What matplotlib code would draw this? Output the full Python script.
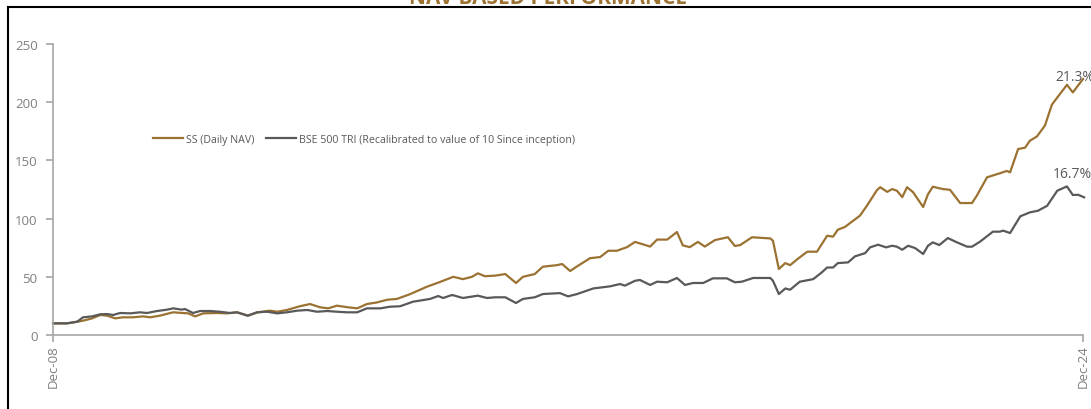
import matplotlib
matplotlib.use("Agg")
import matplotlib.pyplot as plt
from matplotlib.lines import Line2D

# ==========================
# DATA (months since Dec-08, index value)
# ==========================

ss_months = [0, 2.6, 4.5, 5.6, 7.3, 8.8, 10.1, 11.6, 13.0, 14.9, 16.8, 18.1, 19.9,
             22.4, 24.2, 25.2, 26.5, 28.0, 30.6, 32.4, 34.3, 36.3, 38.2, 40.4, 41.8,
             43.6, 46.0, 47.9, 49.8, 51.3, 52.9, 55.0, 56.7, 58.5, 60.4, 62.3, 64.1,
             66.5, 69.7, 72.1, 74.6, 76.4, 78.1, 79.2, 80.5, 82.4, 84.3, 86.3, 87.6,
             89.8, 91.3, 93.9, 94.9, 96.4, 97.7, 100.1, 102.0, 103.5, 105.1, 107.0,
             108.5, 111.3, 112.6, 114.5, 116.3, 117.4, 118.7, 120.2, 121.5, 123.4,
             125.8, 127.1, 128.1, 130.3, 133.7, 134.2, 135.3, 136.5, 137.4, 138.7,
             140.6, 142.4, 144.3, 145.4, 146.3, 147.6, 150.4, 151.7, 153.6, 154.2,
             155.5, 156.4, 157.3, 158.3, 159.2, 160.3, 162.2, 163.1, 164.0, 165.9,
             167.2, 169.1, 171.3, 172.2, 174.1, 176.5, 177.8, 178.4, 179.9, 181.2,
             182.1, 183.4, 184.9, 186.2, 189.0, 190.1, 192.0]
ss_nav = [10, 10, 11.4, 12.3, 14.3, 17.2, 16.6, 14.3, 15.2, 15.2, 16, 15.2, 16.6,
          19.5, 18.9, 18.6, 16, 18.6, 18.9, 18.6, 19.5, 16.6, 19.5, 20.9, 20,
          21.5, 24.7, 26.6, 23.8, 22.9, 25.2, 23.8, 22.9, 26.6, 28, 30.3, 31,
          35, 41.5, 45.5, 50, 48, 50, 53, 50.5, 51, 52.4, 44.7, 50,
          52.4, 58.7, 60, 61, 55, 59, 66, 67, 72.4, 72.4, 75.5,
          80, 76, 82, 82, 88.5, 77, 75.5, 80, 76, 81.6,
          84, 76.5, 77.3, 84, 83, 81, 56.7, 61.8, 60, 65,
          71.6, 71.6, 85.3, 84.5, 90.5, 92.8, 102.5, 111, 124.6, 127,
          123, 125.4, 124, 118.5, 127, 122.8, 110, 121, 127.4, 125.4,
          124.8, 113.4, 113.4, 119.7, 135.5, 139, 141, 139.8, 159.8, 161,
          167, 170.6, 180, 198, 215, 208.5, 220]

bse_months = [0, 2.6, 4.5, 5.6, 7.3, 8.8, 10.1, 11.2, 12.5, 14.4, 16.2, 17.5, 19.4,
              21.3, 22.4, 24.0, 24.6, 26.1, 27.4, 29.3, 31.1, 33.0, 34.3, 36.3, 38.0,
              39.9, 41.8, 43.6, 45.5, 47.4, 49.2, 51.1, 52.9, 54.8, 56.7, 58.5, 61.0,
              62.8, 64.7, 67.1, 70.3, 71.8, 72.7, 74.4, 76.4, 79.2, 80.9, 82.4, 84.3,
              86.3, 87.6, 89.8, 91.3, 94.5, 96.0, 97.7, 100.7, 103.8, 105.7, 106.6,
              108.5, 109.4, 111.3, 112.6, 114.5, 116.3, 117.8, 119.3, 121.2, 123.0,
              125.6, 127.1, 128.4, 130.5, 133.7, 134.2, 135.3, 136.5, 137.4, 139.2,
              141.7, 143.3, 144.3, 145.4, 146.3, 148.2, 149.5, 151.4, 152.3, 153.8,
              155.3, 156.4, 157.3, 158.3, 159.4, 160.7, 162.2, 163.1, 164.0, 165.2,
              166.8, 168.5, 170.4, 171.3, 172.8, 175.2, 176.5, 177.1, 178.4, 180.3,
              182.1, 183.6, 185.3, 187.2, 189.0, 190.1, 191.1, 192.2]
bse_tri = [10, 10, 11.4, 15.2, 16, 17.8, 18, 17.2, 18.9, 18.6, 19.5, 18.9, 20.6,
           21.8, 22.9, 21.8, 22.3, 18.9, 20.6, 20.6, 20, 18.9, 19.5, 16.6, 19.5,
           20, 18.6, 19.5, 20.9, 21.5, 20, 20.6, 20, 19.5, 19.5, 22.9, 22.9,
           24.3, 24.7, 28.6, 31, 33.5, 31.8, 34.4, 31.8, 33.8, 31.8, 32.4, 32.4,
           27.5, 31, 32.4, 35.2, 36, 33.2, 35.2, 40, 41.8, 43.8, 42.4,
           46.6, 47.3, 43, 45.8, 45.3, 49, 43, 44.7, 44.7, 48.7,
           48.7, 45.3, 45.8, 49, 49, 46.6, 35.2, 40, 38.9, 45.8,
           48, 53.8, 58, 58, 61.8, 62.4, 67.6, 70.4, 75.3, 77.6,
           75.3, 76.7, 75.9, 73.3, 76.7, 74.7, 69.6, 76.7, 79.6, 77.3,
           83.3, 79.6, 75.9, 75.9, 80.2, 88.8, 88.8, 89.7, 87.6, 102,
           105.4, 106.8, 111, 124, 127.7, 120.3, 120.5, 118.3]

x_ticks = [0, 192]
x_labels = ["Dec-08", "Dec-24"]
y_ticks = [0, 50, 100, 150, 200, 250]

ss_cagr = "21.3%"
bse_cagr = "16.7%"

# ==========================
# STYLE
# ==========================

plt.rcParams["font.family"] = ["Open Sans", "DejaVu Sans"]

gold = "#9B7232"
dark = "#595959"
axis_grey = "#A6A6A6"
text_grey = "#7F7F7F"

fig = plt.figure(figsize=(10.91, 4.10), dpi=100)
ax = fig.add_axes([0.0486, 0.1805, 0.9441, 0.7095])

ax.plot(ss_months, ss_nav, color=gold, lw=1.6,
        label="SS (Daily NAV)", clip_on=False)
ax.plot(bse_months, bse_tri, color=dark, lw=1.6,
        label="BSE 500 TRI (Recalibrated to value of 10 Since inception)",
        clip_on=False)

ax.set_xlim(0, 192)
ax.set_ylim(0, 250)

ax.set_yticks(y_ticks)
ax.set_xticks(x_ticks)
ax.set_xticklabels(x_labels, rotation=90)

for side in ["top", "right"]:
    ax.spines[side].set_visible(False)
for side in ["left", "bottom"]:
    ax.spines[side].set_color(axis_grey)
    ax.spines[side].set_linewidth(1.2)

ax.tick_params(axis="both", colors=axis_grey, length=5, width=1.2,
               labelcolor=text_grey, labelsize=9.5)
ax.tick_params(axis="y", pad=6)
ax.tick_params(axis="x", pad=2)

# end labels
ax.text(ss_months[-1] - 5.2, ss_nav[-1] - 4, ss_cagr, color=dark,
        fontsize=10, ha="left", va="bottom", clip_on=False)
ax.text(bse_months[-1] - 5.8, bse_tri[-1] + 14, bse_cagr, color=dark,
        fontsize=10, ha="left", va="bottom", clip_on=False)

leg = ax.legend(loc="upper left", bbox_to_anchor=(0.088, 0.725), ncol=2,
                frameon=False, fontsize=7.7, handlelength=2.8,
                handletextpad=0.3, columnspacing=1.0, labelcolor=dark)

# frame and clipped title
fig.add_artist(Line2D([8 / 1091, 1], [1 - 8 / 410, 1 - 8 / 410],
                      transform=fig.transFigure, color="black", lw=1.5))
fig.add_artist(Line2D([8 / 1091, 8 / 1091], [0, 1 - 8 / 410],
                      transform=fig.transFigure, color="black", lw=1.5))
fig.text(0.502, 1 - 4 / 410, "NAV BASED PERFORMANCE", color=gold,
         fontsize=15, fontweight="bold", ha="center", va="baseline")

plt.savefig("out.png", dpi=100)
